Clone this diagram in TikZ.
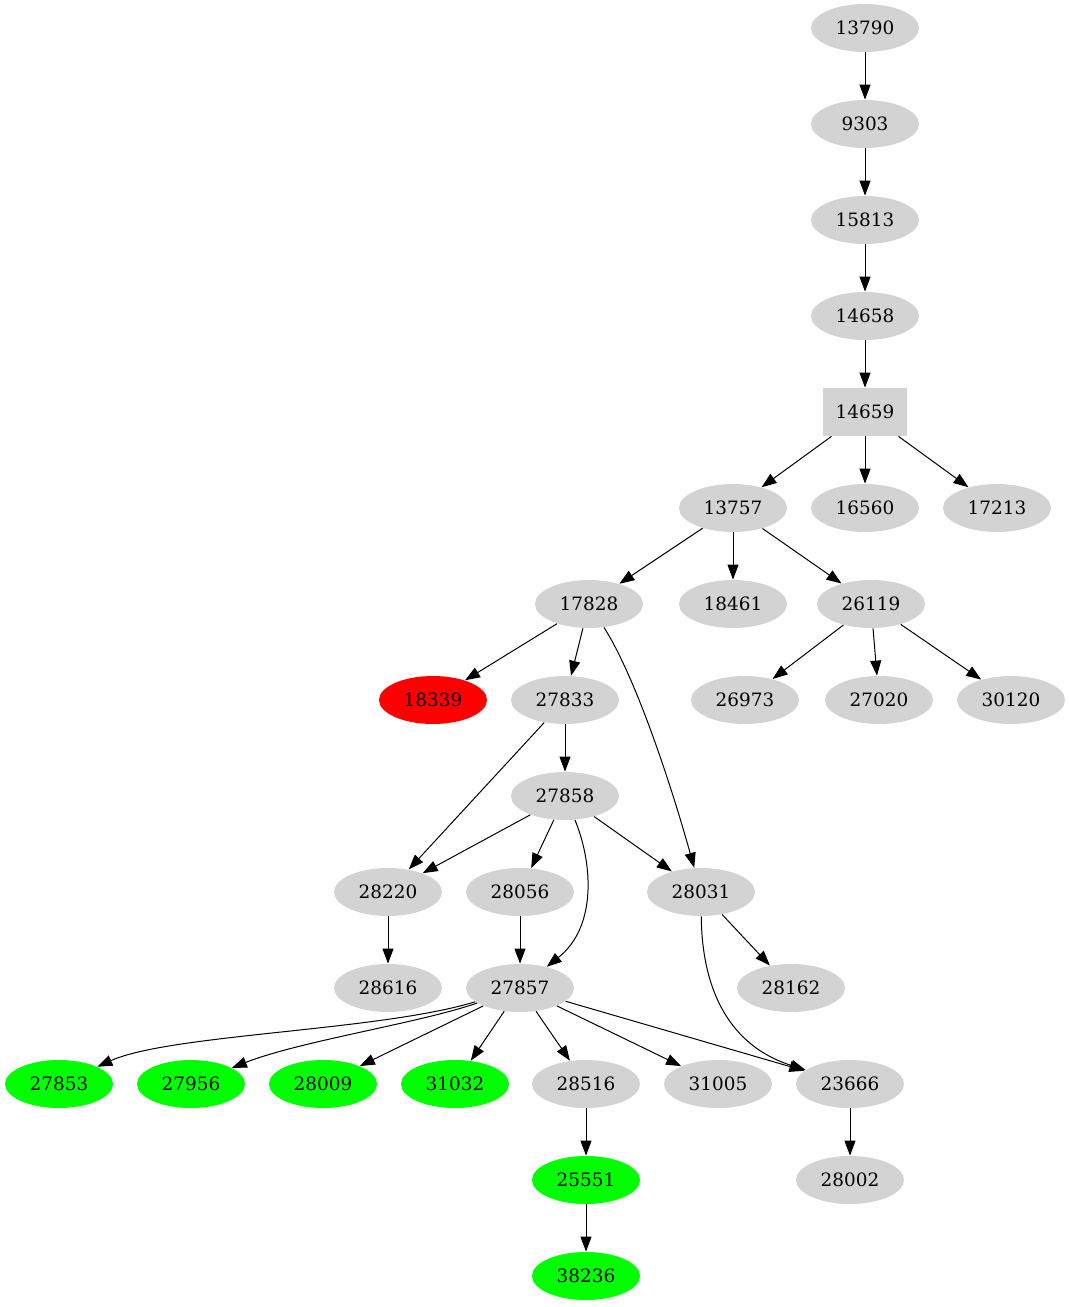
\documentclass[tikz,border=0pt]{standalone}
\usepackage{amsmath, amssymb}
\usepackage{xcolor}
\usepackage{fontspec}
\setmainfont{DejaVu Serif}
\usetikzlibrary{arrows.meta, shapes.geometric}

\definecolor{nodegrey}{RGB}{211,211,211}
\definecolor{nodegreen}{RGB}{0,255,0}
\definecolor{nodered}{RGB}{255,0,0}

\begin{document}
\begin{tikzpicture}[x=0.5pt, y=-0.5pt,
  vert/.style={ellipse, fill=nodegrey, inner sep=0pt, minimum width=54pt, minimum height=24pt,
    font=\fontsize{9.2}{11}\selectfont},
  hit/.style={vert, fill=nodegreen},
  bad/.style={vert, fill=nodered},
  boxv/.style={rectangle, fill=nodegrey, inner sep=0pt, minimum width=42pt, minimum height=24pt,
    font=\fontsize{9.2}{11}\selectfont},
  edge/.style={line width=0.5pt, -{Triangle[length=7.5pt, width=5.5pt]}}]
\useasboundingbox (0,0) rectangle (1070,1307);

\node[vert] (n13790) at (865, 28) {13790};
\node[vert] (n9303) at (865, 124) {9303};
\node[vert] (n15813) at (865, 220) {15813};
\node[vert] (n14658) at (865, 316) {14658};
\node[boxv] (n14659) at (865, 412) {14659};
\node[vert] (n13757) at (733, 508) {13757};
\node[vert] (n16560) at (865, 508) {16560};
\node[vert] (n17213) at (997, 508) {17213};
\node[vert] (n17828) at (589, 604) {17828};
\node[vert] (n18461) at (733, 604) {18461};
\node[vert] (n26119) at (871, 604) {26119};
\node[bad] (n18339) at (433, 700) {18339};
\node[vert] (n27833) at (565, 700) {27833};
\node[vert] (n26973) at (745, 700) {26973};
\node[vert] (n27020) at (879, 700) {27020};
\node[vert] (n30120) at (1011, 700) {30120};
\node[vert] (n27858) at (565, 796) {27858};
\node[vert] (n28220) at (388, 892) {28220};
\node[vert] (n28056) at (520, 892) {28056};
\node[vert] (n28031) at (701, 892) {28031};
\node[vert] (n28616) at (388, 988) {28616};
\node[vert] (n27857) at (520, 988) {27857};
\node[vert] (n28162) at (791, 988) {28162};
\node[hit] (n27853) at (59, 1084) {27853};
\node[hit] (n27956) at (191, 1084) {27956};
\node[hit] (n28009) at (323, 1084) {28009};
\node[hit] (n31032) at (455, 1084) {31032};
\node[vert] (n28516) at (586, 1084) {28516};
\node[vert] (n31005) at (718, 1084) {31005};
\node[vert] (n23666) at (850, 1084) {23666};
\node[hit] (n25551) at (586, 1180) {25551};
\node[vert] (n28002) at (850, 1180) {28002};
\node[hit] (n38236) at (586, 1276) {38236};

\draw[edge] (n13790) -- (n9303);
\draw[edge] (n9303) -- (n15813);
\draw[edge] (n15813) -- (n14658);
\draw[edge] (n14658) -- (n14659);
\draw[edge] (n14659) -- (n13757);
\draw[edge] (n14659) -- (n16560);
\draw[edge] (n14659) -- (n17213);
\draw[edge] (n13757) -- (n17828);
\draw[edge] (n13757) -- (n18461);
\draw[edge] (n13757) -- (n26119);
\draw[edge] (n17828) -- (n18339);
\draw[edge] (n17828) -- (n27833);
\draw[edge] (n17828) .. controls (635, 676) and (670, 781) .. (n28031);
\draw[edge] (n26119) -- (n26973);
\draw[edge] (n26119) -- (n27020);
\draw[edge] (n26119) -- (n30120);
\draw[edge] (n27833) -- (n27858);
\draw[edge] (n27833) -- (n28220);
\draw[edge] (n27858) -- (n28220);
\draw[edge] (n27858) -- (n28056);
\draw[edge] (n27858) -- (n28031);
\draw[edge] (n27858) .. controls (592, 861) and (598, 926) .. (n27857);
\draw[edge] (n28220) -- (n28616);
\draw[edge] (n28056) -- (n27857);
\draw[edge] (n28031) -- (n28162);
\draw[edge] (n28031) .. controls (702, 991) and (730, 1046) .. (n23666);
\draw[edge] (n27857) .. controls (380, 1031) and (170, 1034) .. (n27853);
\draw[edge] (n27857) .. controls (420, 1023) and (300, 1041) .. (n27956);
\draw[edge] (n27857) -- (n28009);
\draw[edge] (n27857) -- (n31032);
\draw[edge] (n27857) -- (n28516);
\draw[edge] (n27857) -- (n31005);
\draw[edge] (n27857) -- (n23666);
\draw[edge] (n28516) -- (n25551);
\draw[edge] (n25551) -- (n38236);
\draw[edge] (n23666) -- (n28002);
\end{tikzpicture}
\end{document}
